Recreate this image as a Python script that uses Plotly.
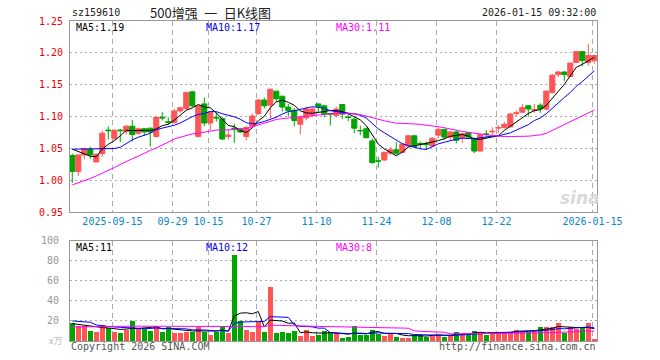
import plotly.graph_objects as go
import numpy as np

# ---------------- data ----------------
dates = [
    "2025-09-04", "2025-09-05", "2025-09-08", "2025-09-09", "2025-09-10", "2025-09-11", "2025-09-12",
    "2025-09-15", "2025-09-16", "2025-09-17", "2025-09-18", "2025-09-19",
    "2025-09-22", "2025-09-23", "2025-09-24", "2025-09-25", "2025-09-26",
    "2025-09-29", "2025-09-30",
    "2025-10-09", "2025-10-10",
    "2025-10-13", "2025-10-14", "2025-10-15", "2025-10-16", "2025-10-17",
    "2025-10-20", "2025-10-21", "2025-10-22", "2025-10-23", "2025-10-24",
    "2025-10-27", "2025-10-28", "2025-10-29", "2025-10-30", "2025-10-31",
    "2025-11-03", "2025-11-04", "2025-11-05", "2025-11-06", "2025-11-07",
    "2025-11-10", "2025-11-11", "2025-11-12", "2025-11-13", "2025-11-14",
    "2025-11-17", "2025-11-18", "2025-11-19", "2025-11-20", "2025-11-21",
    "2025-11-24", "2025-11-25", "2025-11-26", "2025-11-27", "2025-11-28",
    "2025-12-01", "2025-12-02", "2025-12-03", "2025-12-04", "2025-12-05",
    "2025-12-08", "2025-12-09", "2025-12-10", "2025-12-11", "2025-12-12",
    "2025-12-15", "2025-12-16", "2025-12-17", "2025-12-18", "2025-12-19",
    "2025-12-22", "2025-12-23", "2025-12-24", "2025-12-25", "2025-12-26",
    "2025-12-29", "2025-12-30", "2025-12-31",
    "2026-01-05", "2026-01-06", "2026-01-07", "2026-01-08", "2026-01-09",
    "2026-01-12", "2026-01-13", "2026-01-14", "2026-01-15",
]

opens = [
    1.039, 1.014, 1.040, 1.049, 1.029, 1.042, 1.079,
    1.066, 1.079, 1.077, 1.085, 1.074,
    1.081, 1.082, 1.069, 1.099, 1.092,
    1.091, 1.109,
    1.113, 1.139,
    1.069, 1.120, 1.090, 1.099, 1.097,
    1.069, 1.082, 1.081, 1.069, 1.085,
    1.105, 1.126, 1.118, 1.140, 1.132,
    1.115, 1.110, 1.088, 1.098, 1.103,
    1.120, 1.117, 1.1045, 1.102, 1.119,
    1.0992, 1.096, 1.0782, 1.081, 1.062,
    1.0307, 1.032, 1.043, 1.048, 1.044,
    1.054, 1.070, 1.058, 1.058, 1.054,
    1.071, 1.080, 1.068, 1.076, 1.067,
    1.075, 1.066, 1.046, 1.073, 1.076,
    1.082, 1.083, 1.084, 1.105, 1.107,
    1.117, 1.110, 1.118,
    1.112, 1.138, 1.166, 1.170, 1.163,
    1.185, 1.202, 1.185, 1.188,
]
highs = [
    1.042, 1.040, 1.051, 1.053, 1.042, 1.078, 1.085,
    1.081, 1.081, 1.087, 1.095, 1.083,
    1.082, 1.082, 1.100, 1.107, 1.099,
    1.112, 1.115,
    1.139, 1.139,
    1.117, 1.130, 1.109, 1.107, 1.099,
    1.079, 1.089, 1.082, 1.085, 1.105,
    1.128, 1.130, 1.144, 1.140, 1.133,
    1.120, 1.114, 1.102, 1.116, 1.115,
    1.121, 1.118, 1.106, 1.116, 1.120,
    1.104, 1.099, 1.086, 1.083, 1.066,
    1.037, 1.045, 1.052, 1.060, 1.058,
    1.071, 1.071, 1.061, 1.061, 1.068,
    1.083, 1.081, 1.078, 1.078, 1.075,
    1.076, 1.067, 1.072, 1.079, 1.083,
    1.087, 1.092, 1.106, 1.110, 1.120,
    1.118, 1.120, 1.121,
    1.141, 1.167, 1.172, 1.171, 1.185,
    1.203, 1.203, 1.214, 1.197,
]
lows = [
    0.996, 1.007, 1.033, 1.034, 1.028, 1.037, 1.064,
    1.063, 1.060, 1.072, 1.061, 1.072,
    1.070, 1.053, 1.067, 1.094, 1.087,
    1.089, 1.106,
    1.110, 1.115,
    1.067, 1.085, 1.079, 1.092, 1.063,
    1.064, 1.059, 1.074, 1.063, 1.083,
    1.102, 1.113, 1.097, 1.123, 1.108,
    1.100, 1.085, 1.072, 1.094, 1.099,
    1.107, 1.099, 1.086, 1.099, 1.096,
    1.093, 1.074, 1.071, 1.066, 1.026,
    1.020, 1.0305, 1.040, 1.040, 1.0426,
    1.053, 1.052, 1.050, 1.048, 1.053,
    1.066, 1.063, 1.063, 1.058, 1.059,
    1.066, 1.043, 1.046, 1.066, 1.071,
    1.074, 1.081, 1.083, 1.100, 1.106,
    1.100, 1.106, 1.106,
    1.110, 1.136, 1.162, 1.156, 1.162,
    1.184, 1.179, 1.180, 1.183,
]
closes = [
    1.014, 1.040, 1.050, 1.040, 1.041, 1.074, 1.078,
    1.078, 1.078, 1.085, 1.072, 1.081,
    1.076, 1.076, 1.099, 1.098, 1.091,
    1.109, 1.114,
    1.138, 1.117,
    1.117, 1.090, 1.107, 1.098, 1.065,
    1.071, 1.081, 1.076, 1.083, 1.101,
    1.126, 1.117, 1.143, 1.128, 1.115,
    1.1095, 1.094, 1.099, 1.112, 1.112,
    1.116, 1.104, 1.1040, 1.112, 1.104,
    1.0989, 1.082, 1.0779, 1.067, 1.028,
    1.0303, 1.044, 1.048, 1.0426, 1.057,
    1.070, 1.053, 1.057, 1.056, 1.066,
    1.080, 1.068, 1.076, 1.063, 1.073,
    1.068, 1.046, 1.072, 1.072, 1.077,
    1.083, 1.088, 1.104, 1.106, 1.114,
    1.112, 1.111, 1.112,
    1.140, 1.165, 1.170, 1.166, 1.184,
    1.202, 1.188, 1.196, 1.196,
]
volumes = [
    18, 15, 15, 10.7, 9.7, 16.7, 13,
    9.7, 8.7, 11.3, 20, 12.3,
    12.3, 10.7, 15.7, 9.7, 14,
    8.7, 8,
    9.7, 9.7,
    14, 9.7, 6.7, 9.7, 14.7,
    8, 85.7, 20.7, 11.7, 9.7,
    19, 9.7, 54, 8, 9,
    8, 10.7, 5.7, 11.7, 5,
    6.3, 10, 9, 8, 3,
    4, 15, 6.7, 6.7, 11.7,
    7.3, 5.7, 8.3, 4.7, 3.7,
    3.7, 6.3, 6.3, 4.7, 6.7,
    6.7, 4.7, 6.3, 9.7, 7.3,
    6.3, 10.7, 9.7, 6.7, 8.3,
    9, 9.7, 9.7, 11.7, 10.7,
    9, 10.7, 14.7,
    14, 14.7, 18.3, 8, 14,
    12.3, 14.7, 18.3, 2.3,
]

# moving-average values at the left edge (need history before the window)
ma5_head = [1.049, 1.045, 1.041, 1.038]
ma10_head = [1.049, 1.049, 1.049, 1.049, 1.049, 1.049, 1.049, 1.050, 1.052]
ma30_head = [0.993, 0.996, 0.999, 1.003, 1.007, 1.011, 1.016, 1.020, 1.025, 1.030,
             1.034, 1.038, 1.043, 1.047, 1.051, 1.055, 1.060, 1.065, 1.068, 1.071,
             1.073, 1.074, 1.076, 1.078, 1.079, 1.079, 1.079, 1.080, 1.080]
vma5_head = [17.3, 16.5, 15.7, 15.0]
vma10_head = [20, 19.7, 19.3, 18.7, 16, 15, 14.5, 14, 13.5]
vma30_head = [14, 14, 14.2, 14.3, 14.4, 14.4, 14.5, 14.5, 14.6, 14.7,
              14.8, 14.8, 14.8, 14.8, 14.9, 14.9, 15, 15, 15, 15,
              15, 15, 15, 14.9, 14.8, 14.8, 14.7, 14.7, 14.6]

tick_dates = ["2025-09-15", "2025-09-29", "2025-10-15", "2025-10-27", "2025-11-10",
              "2025-11-24", "2025-12-08", "2025-12-22", "2026-01-15"]
tick_labels = ["2025-09-15", "09-29", "10-15", "10-27", "11-10",
               "11-24", "12-08", "12-22", "2026-01-15"]
price_ticks = [0.95, 1.00, 1.05, 1.10, 1.15, 1.20, 1.25]
vol_ticks = [20, 40, 60, 80, 100]

code = "sz159610"
title = "500增强\u2002一\u2002日K线图"
stamp = "2026-01-15 09:32:00"
price_legend = ["MA5:1.19", "MA10:1.17", "MA30:1.11"]
vol_legend = ["MA5:11", "MA10:12", "MA30:8"]


def moving(values, n, head):
    v = np.asarray(values, dtype=float)
    out = list(head)
    for i in range(n - 1, len(v)):
        out.append(v[i - n + 1:i + 1].mean())
    return out


idx = list(range(len(dates)))
ma5 = moving(closes, 5, ma5_head)
ma10 = moving(closes, 10, ma10_head)
ma30 = moving(closes, 30, ma30_head)
vma5 = moving(volumes, 5, vma5_head)
vma10 = moving(volumes, 10, vma10_head)
vma30 = moving(volumes, 30, vma30_head)

RED = "#ff5555"
GREEN = "#00a600"
MONO = "DejaVu Sans Mono"
# date grid lines sit just left of the candle centre in the original
tickpos = [dates.index(d) - 0.3 for d in tick_dates]

fig = go.Figure()
fig.add_trace(go.Candlestick(
    x=idx, open=opens, high=highs, low=lows, close=closes,
    increasing=dict(line=dict(color=RED, width=1), fillcolor=RED),
    decreasing=dict(line=dict(color=GREEN, width=1), fillcolor=GREEN),
    whiskerwidth=0, xaxis="x", yaxis="y", hoverinfo="skip",
))
for series, col in [(ma5, "black"), (ma10, "#0000ff"), (ma30, "#ff00ff")]:
    fig.add_trace(go.Scatter(x=idx, y=series, mode="lines",
                             line=dict(color=col, width=1),
                             xaxis="x", yaxis="y", hoverinfo="skip"))

vcolors = [RED if c > o else GREEN for o, c in zip(opens, closes)]
fig.add_trace(go.Bar(x=idx, y=volumes, marker=dict(color=vcolors, line=dict(width=0)),
                     width=0.8, xaxis="x2", yaxis="y2", hoverinfo="skip"))
for series, col in [(vma5, "black"), (vma10, "#0000ff"), (vma30, "#ff00ff")]:
    fig.add_trace(go.Scatter(x=idx, y=series, mode="lines",
                             line=dict(color=col, width=1),
                             xaxis="x2", yaxis="y2", hoverinfo="skip"))

L, R, T, B = 70, 63, 21, 19
W, H = 660, 360
pw, ph = W - L - R, H - T - B


def px(x):
    return (x - L) / pw


def py(y):
    return (H - B - y) / ph


xr = [-0.38, 87.45]
axis_common = dict(showline=True, mirror=True, linecolor="#999999", linewidth=1,
                   zeroline=False)
fig.update_layout(
    width=W, height=H, margin=dict(l=L, r=R, t=T, b=B),
    paper_bgcolor="white", plot_bgcolor="white", showlegend=False,
    boxgap=0.15, boxgroupgap=0, bargap=0,
    font=dict(family=MONO, size=10),
    xaxis=dict(domain=[0, 1], anchor="y", range=xr, tickmode="array",
               tickvals=tickpos, ticktext=tick_labels, showgrid=True,
               gridcolor="#aaaaaa", griddash="5px,4px", gridwidth=1,
               tickfont=dict(color="#0a84cc", size=10, family=MONO),
               ticks="", rangeslider=dict(visible=False), **axis_common),
    yaxis=dict(domain=[py(212.3), 1], anchor="x", range=[0.95, 1.25],
               tickmode="array", tickvals=price_ticks,
               ticktext=[f"{v:.2f}" for v in price_ticks],
               tickfont=dict(color="#ee0000", size=10, family=MONO),
               showgrid=True, gridcolor="#aaaaaa", griddash="2px,3px",
               ticks="", ticklabelstandoff=4, **axis_common),
    xaxis2=dict(domain=[0, 1], anchor="y2", range=xr, matches="x",
                tickmode="array", tickvals=tickpos, showticklabels=False,
                showgrid=True, gridcolor="#aaaaaa", griddash="5px,4px",
                ticks="", **axis_common),
    yaxis2=dict(domain=[0, py(240.7)], anchor="x2", range=[0, 100],
                tickmode="array", tickvals=vol_ticks,
                ticktext=[str(v) for v in vol_ticks],
                tickfont=dict(color="#999999", size=10, family=MONO),
                showgrid=True, gridcolor="#aaaaaa", griddash="2px,3px",
                ticks="", ticklabelstandoff=8, **axis_common),
)

ann = []


def text(x, y, s, color="#000000", size=10, family=MONO, anchor="left"):
    ann.append(dict(x=px(x), y=py(y), xref="paper", yref="paper", text=s,
                    showarrow=False, xanchor=anchor, yanchor="middle",
                    font=dict(color=color, size=size, family=family)))


text(70, 12, code, "#222222")
text(210, 12, title, "#222222", 13, "Noto Sans CJK SC", "center")
text(598, 12, stamp, "#222222", anchor="right")
legend_cols = ["#000000", "#0000ff", "#ff00ff"]
for s, c, x in zip(price_legend, legend_cols, [74, 204, 334]):
    text(x, 27, s, c)
for s, c, x in zip(vol_legend, legend_cols, [74, 204, 334]):
    text(x, 247, s, c)
text(64, 340, "x万", "#bbbbbb", 9, "Noto Sans CJK SC", "right")
text(69, 346, "Copyright 2026 SINA.COM", "#555555")
text(598, 346, "http://finance.sina.com.cn", "#555555", anchor="right")
text(580, 198, "<b><i>sina</i></b>", "#d9d9d9", 17, "DejaVu Sans", "center")
fig.update_layout(annotations=ann)

fig.write_html("out.html", config={"displayModeBar": False},
               post_script="document.body.style.margin='0';")
